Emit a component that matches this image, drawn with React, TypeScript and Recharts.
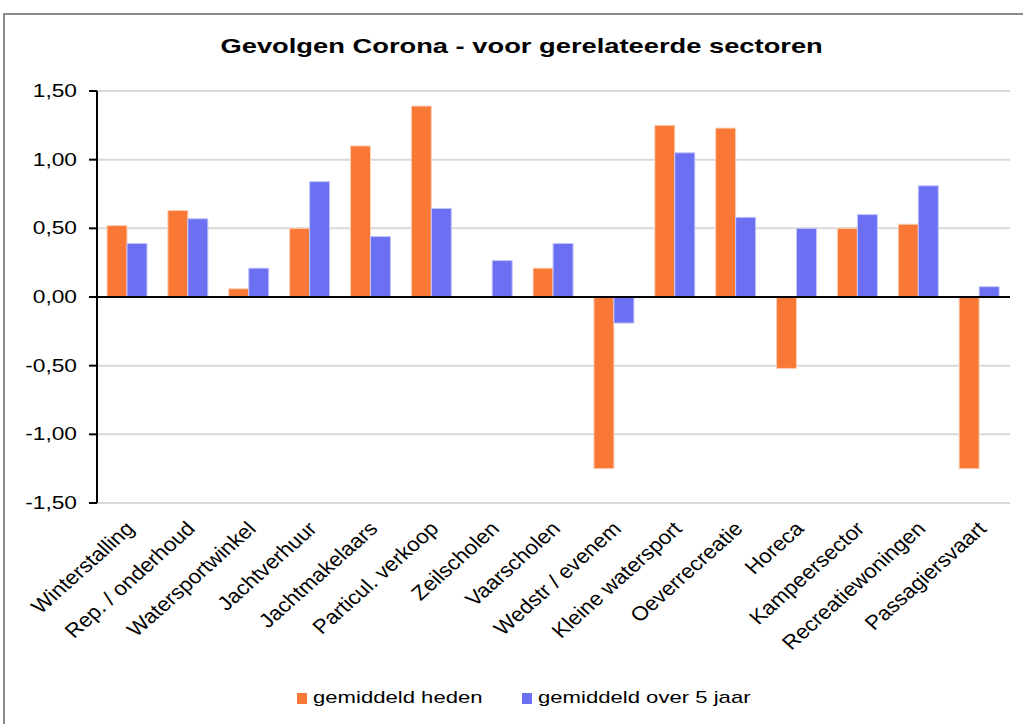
import { BarChart, Bar, XAxis, YAxis, CartesianGrid, ReferenceLine } from 'recharts';

const categories = [
    'Winterstalling', 'Rep. / onderhoud', 'Watersportwinkel', 'Jachtverhuur', 'Jachtmakelaars',
    'Particul. verkoop', 'Zeilscholen', 'Vaarscholen', 'Wedstr / evenem', 'Kleine watersport',
    'Oeverrecreatie', 'Horeca', 'Kampeersector', 'Recreatiewoningen', 'Passagiersvaart',
];
const heden = [0.52, 0.63, 0.06, 0.5, 1.1, 1.39, 0, 0.21, -1.25, 1.25, 1.23, -0.52, 0.5, 0.53, -1.25];
const vijfJaar = [0.39, 0.57, 0.21, 0.84, 0.44, 0.645, 0.265, 0.39, -0.19, 1.05, 0.58, 0.5, 0.6, 0.81, 0.075];
const yTicks = [-1.5, -1, -0.5, 0, 0.5, 1, 1.5];

const data = categories.map((name, i) => ({ name, heden: heden[i], vijfJaar: vijfJaar[i] }));

const ORANGE = '#FA7836';
const BLUE = '#6B70F2';
const FONT = '"Liberation Sans", Arial, sans-serif';
const SX = 1.3; // the reference text is stretched horizontally

function CategoryTick(props: any) {
    const { x, y, payload } = props;
    const ax = x + 8;
    const ay = y + 19;
    return (
        <text
            x={0}
            y={0}
            transform={`translate(${ax}, ${ay}) scale(1.12, 1) rotate(-45)`}
            textAnchor="end"
            fontSize={20}
            fill="#000"
            fontFamily={FONT}
        >
            {payload.value}
        </text>
    );
}

function ValueTick(props: any) {
    const { x, y, payload } = props;
    return (
        <text
            x={0}
            y={0}
            dy={6}
            transform={`translate(${x}, ${y}) scale(${SX}, 1)`}
            textAnchor="end"
            fontSize={17.5}
            fill="#000"
            fontFamily={FONT}
        >
            {payload.value.toFixed(2).replace('.', ',')}
        </text>
    );
}

function LegendItem({ left, color, label }: { left: number; color: string; label: string }) {
    return (
        <div style={{ position: 'absolute', left, top: 686, display: 'flex', alignItems: 'center', height: 24 }}>
            <span style={{ width: 10, height: 11, background: color, display: 'inline-block' }} />
            <span style={{ marginLeft: 6, fontFamily: FONT, fontSize: 17, display: 'inline-block', transform: `scaleX(${SX})`, transformOrigin: 'left center', whiteSpace: 'nowrap' }}>
                {label}
            </span>
        </div>
    );
}

export default function App() {
    return (
        <div style={{ position: 'absolute', left: 0, top: 0, width: 1023, height: 724, background: '#fff', overflow: 'hidden' }}>
            <div style={{ position: 'absolute', left: 3, top: 13, width: 1100, height: 800, borderTop: '2px solid #8a8a8a', borderLeft: '2px solid #8a8a8a' }} />
            <div style={{ position: 'absolute', left: 0, top: 34, width: 1044, textAlign: 'center' }}>
                <span style={{ display: 'inline-block', fontFamily: FONT, fontWeight: 'bold', fontSize: 21, transform: `scaleX(${SX})` }}>
                    Gevolgen Corona - voor gerelateerde sectoren
                </span>
            </div>
            <div style={{ position: 'absolute', left: 0, top: 0 }}>
                <BarChart width={1023} height={724} data={data} margin={{ top: 91, right: 13, bottom: 191, left: 17 }} barSize={20} barGap={0}>
                    <CartesianGrid horizontal vertical={false} stroke="#d9d9d9" strokeWidth={2} />
                    <XAxis dataKey="name" axisLine={false} tickLine={false} interval={0} tick={<CategoryTick />} height={30} />
                    <YAxis
                        width={80}
                        domain={[-1.5, 1.5]}
                        ticks={yTicks}
                        interval={0}
                        axisLine={{ stroke: '#000', strokeWidth: 2 }}
                        tickLine={{ stroke: '#000', strokeWidth: 2 }}
                        tickSize={8}
                        tickMargin={12}
                        tick={<ValueTick />}
                    />
                    <ReferenceLine y={0} stroke="#000" strokeWidth={2} />
                    <Bar dataKey="heden" name="gemiddeld heden" fill={ORANGE} stroke="#fdd0b8" strokeWidth={1} isAnimationActive={false} />
                    <Bar dataKey="vijfJaar" name="gemiddeld over 5 jaar" fill={BLUE} stroke="#c4c6fa" strokeWidth={1} isAnimationActive={false} />
                </BarChart>
            </div>
            <LegendItem left={297} color={ORANGE} label="gemiddeld heden" />
            <LegendItem left={522} color={BLUE} label="gemiddeld over 5 jaar" />
        </div>
    );
}
